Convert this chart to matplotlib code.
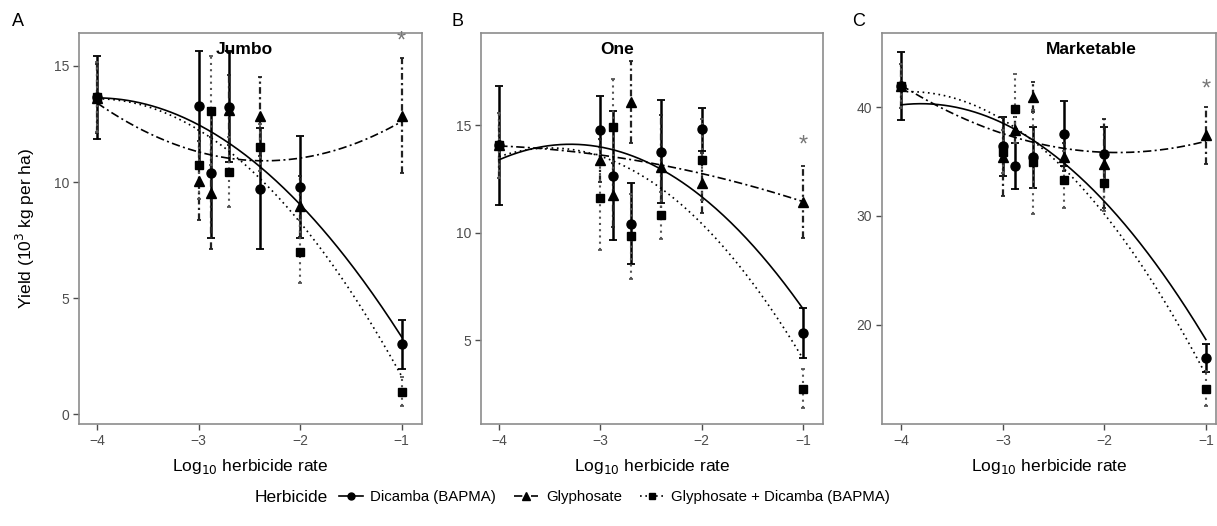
import matplotlib
matplotlib.use("Agg")
import matplotlib.pyplot as plt
import numpy as np
from matplotlib.lines import Line2D

plt.rcParams['font.family'] = ['Liberation Sans', 'DejaVu Sans']

# log10 herbicide rates
rates = [-4, -3, -2.88, -2.7, -2.4, -2, -1]
herbicides = ["Dicamba (BAPMA)", "Glyphosate", "Glyphosate + Dicamba (BAPMA)"]
panel_names = ["Jumbo", "One", "Marketable"]
panel_tags = ["A", "B", "C"]

# means and standard errors (10^3 kg per ha)
jumbo_dicamba = [13.65, 13.26, 10.39, 13.25, 9.71, 9.77, 3.02]
jumbo_dicamba_se = [1.78, 2.4, 2.8, 2.4, 2.6, 2.2, 1.05]
jumbo_glyphosate = [13.6, 10.06, 9.52, 13.1, 12.83, 8.95, 12.86]
jumbo_glyphosate_se = [1.5, 1.7, 2.4, 1.5, 1.7, 1.3, 2.47]
jumbo_mix = [13.65, 10.75, 13.07, 10.43, 11.49, 7.0, 0.97]
jumbo_mix_se = [1.5, 1.5, 2.35, 1.5, 1.0, 1.35, 0.62]

one_dicamba = [14.07, 14.78, 12.66, 10.43, 13.77, 14.83, 5.34]
one_dicamba_se = [2.76, 1.6, 3.0, 1.9, 2.4, 1.0, 1.16]
one_glyphosate = [14.07, 13.38, 11.75, 16.1, 13.07, 12.3, 11.43]
one_glyphosate_se = [1.5, 1.0, 1.5, 1.9, 2.4, 1.4, 1.68]
one_mix = [14.07, 11.6, 14.93, 9.84, 10.82, 13.41, 2.75]
one_mix_se = [1.5, 2.4, 2.25, 1.97, 1.1, 1.9, 0.9]

mkt_dicamba = [41.95, 36.4, 34.57, 35.4, 37.56, 35.66, 16.95]
mkt_dicamba_se = [3.1, 2.7, 2.1, 2.8, 3.0, 2.5, 1.27]
mkt_glyphosate = [41.95, 35.4, 37.86, 40.9, 35.4, 34.8, 37.4]
mkt_glyphosate_se = [2.0, 3.6, 1.2, 1.4, 1.3, 4.1, 2.6]
mkt_mix = [41.95, 35.9, 39.85, 34.96, 33.34, 32.98, 14.14]
mkt_mix_se = [2.0, 2.0, 3.15, 4.75, 2.65, 2.5, 1.63]

# fitted (quadratic) response curves read at these rates
fit_rates = [-4, -3, -2, -1]
jumbo_fit_dicamba = [13.6, 12.54, 8.95, 3.35]
jumbo_fit_glyphosate = [13.4, 11.3, 11.03, 12.61]
jumbo_fit_mix = [13.6, 12.2, 8.3, 1.62]
one_fit_dicamba = [13.4, 14.0, 11.68, 6.48]
one_fit_glyphosate = [14.07, 13.54, 12.84, 11.43]
one_fit_mix = [13.6, 13.4, 10.6, 4.1]
mkt_fit_dicamba = [40.24, 38.4, 31.45, 18.6]
mkt_fit_glyphosate = [41.95, 37.7, 35.7, 36.9]
mkt_fit_mix = [41.5, 38.5, 30.5, 15.3]

# asterisk (significance) height at rate -1
star_y = [16.05, 14.08, 41.6]

panels = [
    (jumbo_dicamba, jumbo_dicamba_se, jumbo_glyphosate, jumbo_glyphosate_se, jumbo_mix, jumbo_mix_se,
     jumbo_fit_dicamba, jumbo_fit_glyphosate, jumbo_fit_mix),
    (one_dicamba, one_dicamba_se, one_glyphosate, one_glyphosate_se, one_mix, one_mix_se,
     one_fit_dicamba, one_fit_glyphosate, one_fit_mix),
    (mkt_dicamba, mkt_dicamba_se, mkt_glyphosate, mkt_glyphosate_se, mkt_mix, mkt_mix_se,
     mkt_fit_dicamba, mkt_fit_glyphosate, mkt_fit_mix),
]

styles = [
    dict(marker="o", ls="-", ms=6.5, ebls="-", eblw=1.8, cap=3.0, ecol="black"),
    dict(marker="^", ls=(0, (5, 2, 1.2, 2)), ms=7, ebls=(0, (3, 1.5, 1, 1.5)), eblw=1.6, cap=1.5, ecol="#222222"),
    dict(marker="s", ls=(0, (1, 2.2)), ms=6, ebls=(0, (1, 2)), eblw=1.5, cap=1.5, ecol="#555555"),
]

axes_pos = [
    [79 / 1217, 102 / 526, 343 / 1217, 391 / 526],
    [481 / 1217, 102 / 526, 342 / 1217, 391 / 526],
    [882 / 1217, 102 / 526, 334 / 1217, 391 / 526],
]
tag_x = [12, 452, 852]
ylims = [(-0.42, 16.42), (1.1, 19.3), (10.88, 46.8)]
xlims = [(-4.18, -0.8), (-4.18, -0.8), (-4.19, -0.9)]
yticks = [[0, 5, 10, 15], [5, 10, 15], [20, 30, 40]]
title_x = [0.481, 0.397, 0.628]

fig = plt.figure(figsize=(12.17, 5.26), dpi=100)
xs = np.linspace(-4, -1, 200)

for i, p in enumerate(panels):
    ax = fig.add_axes(axes_pos[i])
    means = [p[0], p[2], p[4]]
    ses = [p[1], p[3], p[5]]
    fits = [p[6], p[7], p[8]]
    for j in range(3):
        st = styles[j]
        eb = ax.errorbar(rates, means[j], yerr=ses[j], fmt="none", ecolor=st["ecol"],
                         elinewidth=st["eblw"], capsize=st["cap"], capthick=1.3, zorder=2)
        eb[2][0].set_linestyle(st["ebls"])
        coef = np.polyfit(fit_rates, fits[j], 2)
        ax.plot(xs, np.polyval(coef, xs), color="black", lw=1.2, ls=st["ls"], zorder=3)
        ax.plot(rates, means[j], ls="none", marker=st["marker"], ms=st["ms"],
                color="black", zorder=4)
    ax.text(-1, star_y[i], "*", ha="center", va="center", fontsize=17, color="#777777")
    ax.set_xlim(xlims[i])
    ax.set_ylim(ylims[i])
    ax.set_xticks([-4, -3, -2, -1])
    ax.set_xticklabels(["\u22124", "\u22123", "\u22122", "\u22121"])
    ax.set_yticks(yticks[i])
    ax.tick_params(colors="#4d4d4d", labelsize=10, length=4, width=1, pad=3)
    for s in ax.spines.values():
        s.set_color("#8c8c8c")
        s.set_linewidth(1.2)
    ax.set_xlabel("Log$_{10}$ herbicide rate", fontsize=12.5, labelpad=7)
    ax.text(title_x[i], 0.957, panel_names[i], transform=ax.transAxes, ha="center",
            va="center", fontsize=12.5, fontweight="bold")
    fig.text(tag_x[i] / 1217, 1 - 22 / 526, panel_tags[i], fontsize=13,
             ha="left", va="center")
    if i == 0:
        ax.set_ylabel("Yield (10$^{3}$ kg per ha)", fontsize=12.5, labelpad=12)

handles = []
for j in range(3):
    st = styles[j]
    handles.append(Line2D([0], [0], color="black", lw=1.2, ls=st["ls"], marker=st["marker"],
                          ms=st["ms"] - 1.5))
fig.text(255 / 1217, 1 - 497 / 526, "Herbicide", fontsize=12.5, ha="left", va="center")
fig.legend(handles, herbicides, loc="center left", bbox_to_anchor=(333 / 1217, 1 - 497 / 526),
           ncol=3, frameon=False, fontsize=10.8, handlelength=1.6, handletextpad=0.5,
           columnspacing=1.2, borderaxespad=0)

fig.savefig("out.png", dpi=100)
